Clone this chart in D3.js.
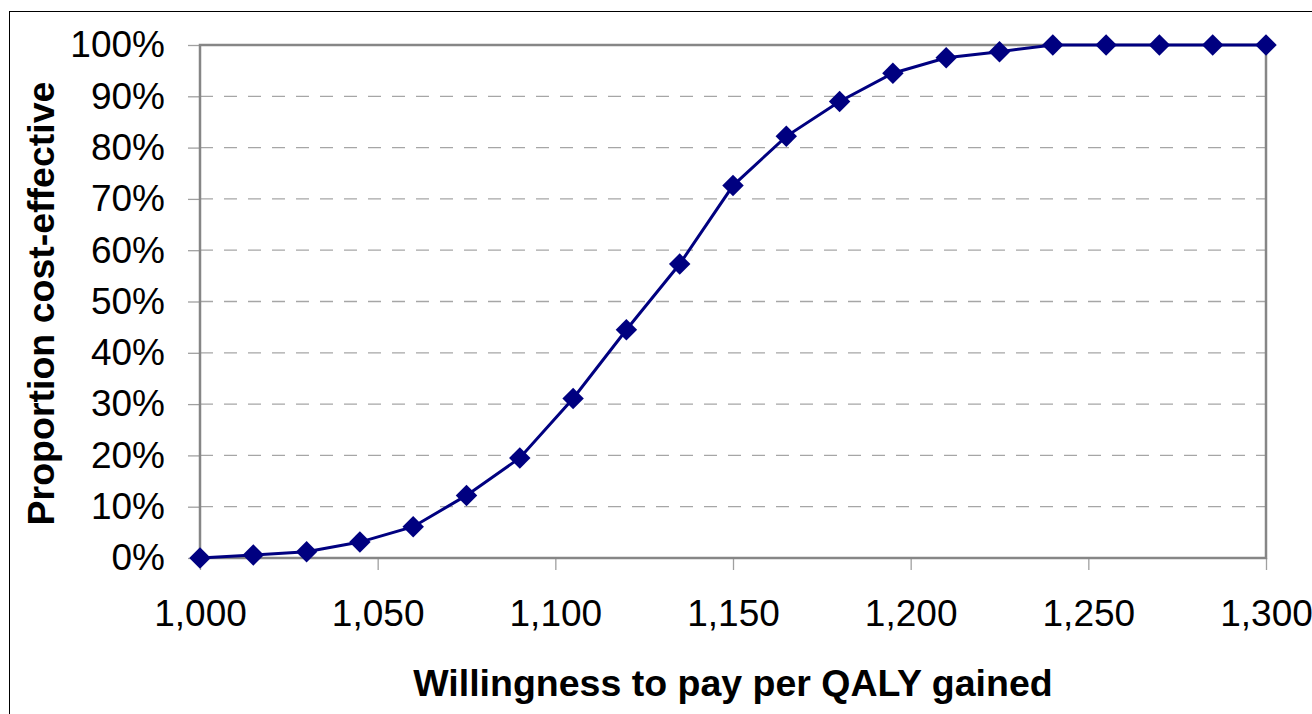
<!DOCTYPE html>
<html>
<head>
<meta charset="utf-8">
<script src="https://cdn.jsdelivr.net/npm/d3@7"></script>
<style>
    html, body { margin: 0; padding: 0; background: #fff; }
    svg { display: block; font-family: "Liberation Sans", Arial, sans-serif; }
</style>
</head>
<body>
<svg id="chart"></svg>
<script>
// willingness to pay per QALY, step 15
let wtp = [1000, 1015, 1030, 1045, 1060, 1075, 1090, 1105, 1120, 1135, 1150,
    1165, 1180, 1195, 1210, 1225, 1240, 1255, 1270, 1285, 1300];
// proportion cost-effective, in %
let proportion = [0, 0.6, 1.2, 3.1, 6.1, 12.2, 19.5, 31.1, 44.5, 57.3, 72.6,
    82.2, 89.0, 94.5, 97.5, 98.7, 100, 100, 100, 100, 100];
let xTicks = [1000, 1050, 1100, 1150, 1200, 1250, 1300];
let yTicks = [0, 10, 20, 30, 40, 50, 60, 70, 80, 90, 100];

let width = 1312, height = 714;
let margin = {left: 200, right: 46, top: 45, bottom: 156};

let svg = d3.select('#chart')
    .attr('width', width)
    .attr('height', height);

// chart area border
svg.append('rect')
    .attr('x', 9.5).attr('y', 11.5)
    .attr('width', width + 20).attr('height', height + 20)
    .attr('fill', 'none')
    .attr('stroke', '#000')
    .attr('stroke-width', 1);

let xScale = d3.scaleLinear()
    .domain([1000, 1300])
    .range([margin.left, width - margin.right]);

let yScale = d3.scaleLinear()
    .domain([0, 100])
    .range([height - margin.bottom, margin.top]);

let x0 = xScale.range()[0], x1 = xScale.range()[1];
let y0 = yScale.range()[0], y1 = yScale.range()[1];

// dashed gridlines
svg.append('g')
    .selectAll('line')
    .data(yTicks.filter(d => d > 0 && d < 100))
    .enter().append('line')
    .attr('x1', x0).attr('x2', x1)
    .attr('y1', d => yScale(d)).attr('y2', d => yScale(d))
    .attr('stroke', '#a6a6a6')
    .attr('stroke-width', 1.3)
    .attr('stroke-dasharray', '13,11');

// y axis
let yAxis = d3.axisLeft(yScale)
    .tickValues(yTicks)
    .tickSize(12)
    .tickPadding(23)
    .tickFormat(d => d + '%');
let gy = svg.append('g')
    .attr('transform', `translate(${x0}, 0)`)
    .call(yAxis);
gy.select('.domain').remove();
gy.selectAll('.tick line').attr('stroke', '#a0a0a0').attr('stroke-width', 1.3);
gy.selectAll('.tick text')
    .attr('font-size', 37)
    .attr('fill', '#000')
    .attr('font-family', '"Liberation Sans", Arial, sans-serif');

// x axis
let xAxis = d3.axisBottom(xScale)
    .tickValues(xTicks)
    .tickSize(12)
    .tickPadding(30)
    .tickFormat(d3.format(','));
let gx = svg.append('g')
    .attr('transform', `translate(0, ${y0})`)
    .call(xAxis);
gx.select('.domain').remove();
gx.selectAll('.tick line').attr('stroke', '#a0a0a0').attr('stroke-width', 1.3);
gx.selectAll('.tick text')
    .attr('font-size', 37)
    .attr('fill', '#000')
    .attr('font-family', '"Liberation Sans", Arial, sans-serif');

// plot area border
svg.append('rect')
    .attr('x', x0).attr('y', y1)
    .attr('width', x1 - x0).attr('height', y0 - y1)
    .attr('fill', 'none')
    .attr('stroke', '#868686')
    .attr('stroke-width', 2.5);

// series
let data = wtp.map((w, i) => [w, proportion[i]]);
let lineGen = d3.line()
    .x(d => xScale(d[0]))
    .y(d => yScale(d[1]));
svg.append('path')
    .attr('d', lineGen(data))
    .attr('fill', 'none')
    .attr('stroke', '#000080')
    .attr('stroke-width', 3);

let diamond = d3.symbol().type(d3.symbolSquare).size(230);
svg.append('g')
    .selectAll('path')
    .data(data)
    .enter().append('path')
    .attr('d', diamond)
    .attr('transform', d => `translate(${xScale(d[0])}, ${yScale(d[1])}) rotate(45)`)
    .attr('fill', '#000080');

// axis titles
svg.append('text')
    .attr('x', (x0 + x1) / 2)
    .attr('y', 696)
    .attr('text-anchor', 'middle')
    .attr('font-size', 37.5)
    .attr('font-weight', 'bold')
    .text('Willingness to pay per QALY gained');

svg.append('text')
    .attr('transform', `translate(54, ${(y0 + y1) / 2 + 2}) rotate(-90)`)
    .attr('text-anchor', 'middle')
    .attr('font-size', 37.5)
    .attr('font-weight', 'bold')
    .text('Proportion cost-effective');
</script>
</body>
</html>
